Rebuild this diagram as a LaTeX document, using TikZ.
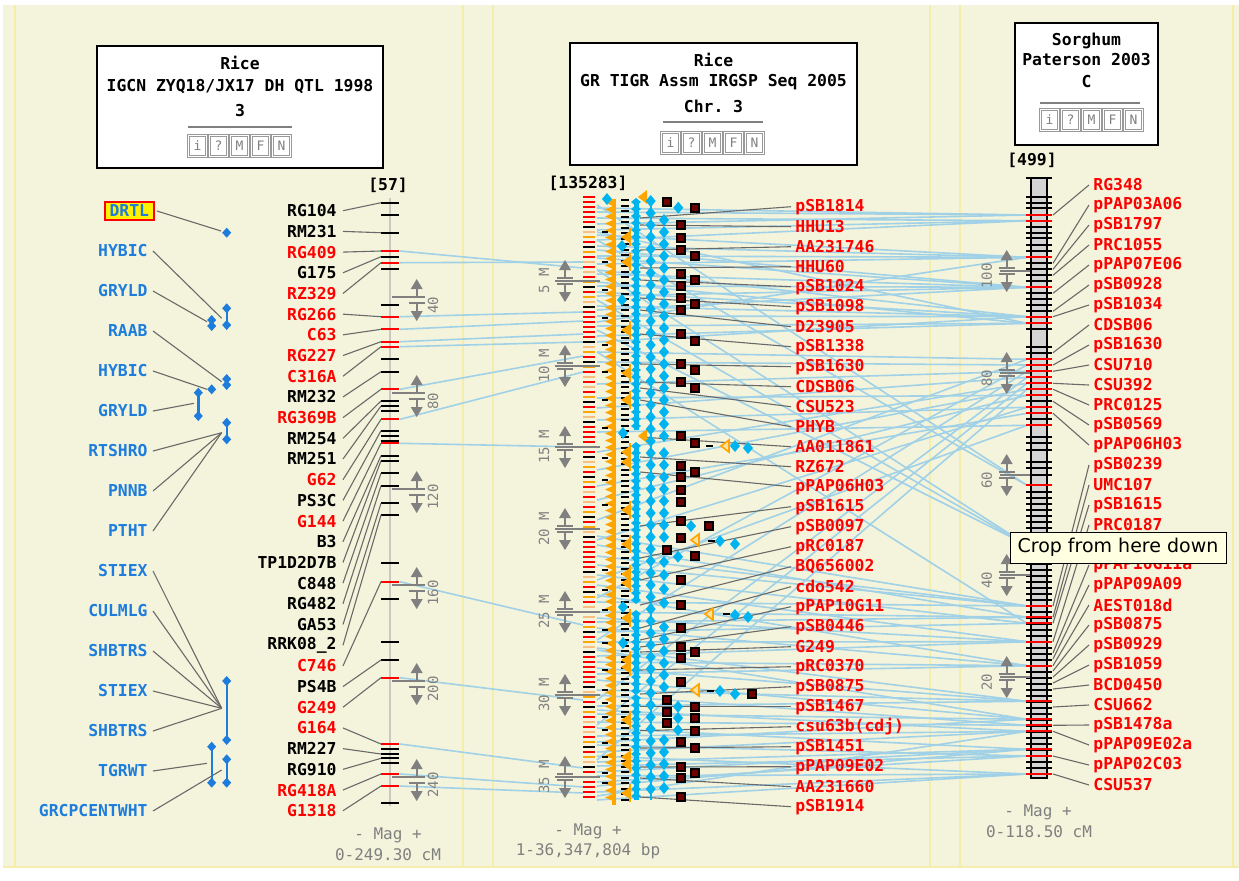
\documentclass[tikz,border=0pt]{standalone}
\usepackage{fontspec}
\setmonofont{DejaVu Sans Mono}
\newfontfamily\tipfont{DejaVu Sans}
\definecolor{bgc}{RGB}{244,244,220}
\definecolor{panelc}{RGB}{245,238,170}
\definecolor{tred}{RGB}{255,0,0}
\definecolor{qblue}{RGB}{30,125,220}
\definecolor{lnk}{RGB}{160,209,231}
\definecolor{cgray}{RGB}{105,105,105}
\definecolor{sgray}{RGB}{128,128,128}
\definecolor{orng}{RGB}{255,165,0}
\definecolor{peach}{RGB}{248,190,130}
\definecolor{cyn}{RGB}{0,180,240}
\definecolor{sqred}{RGB}{110,0,0}
\definecolor{grn}{RGB}{30,140,30}
\definecolor{chrg}{RGB}{212,212,212}
\definecolor{tipbg}{RGB}{255,255,225}
\definecolor{axg}{RGB}{200,200,200}
\begin{document}
\begin{tikzpicture}[x=0.5pt,y=-0.5pt,
  mono/.style={font=\ttfamily\bfseries\fontsize{8.2}{9}\selectfont, inner sep=0pt},
  graytxt/.style={font=\ttfamily\fontsize{8}{9}\selectfont, inner sep=0pt, text=sgray},
  scaletxt/.style={font=\ttfamily\fontsize{7}{8}\selectfont, inner sep=0pt, text=sgray, rotate=90},
  qlbl/.style={mono, text=qblue, anchor=east},
  btn/.style={draw=sgray!80, double=white, double distance=0.8pt, line width=0.4pt, minimum width=9pt, minimum height=10.5pt, inner sep=0pt, font=\ttfamily\fontsize{6.5}{7}\selectfont, text=sgray},
  conn/.style={cgray, line width=0.55pt},
  link/.style={lnk, line width=0.8pt},
  hbox/.style={draw=black, fill=white, line width=1.1pt},
  dm/.pic={\fill[cyn] (0,-6) -- (5,0) -- (0,6) -- (-5,0) -- cycle;},
  qd/.pic={\fill[qblue] (0,-5) -- (4.5,0) -- (0,5) -- (-4.5,0) -- cycle;},
  sq/.pic={\filldraw[fill=sqred, draw=black, line width=1pt] (-4,-4) rectangle (4,4);},
  otri/.pic={\filldraw[draw=orng, fill=orng!35, line width=0.8pt] (4,-6) -- (-4,0) -- (4,6) -- cycle;},
  smark/.pic={
    \fill[sgray] (0,-21) -- (-6,-11) -- (6,-11) -- cycle;
    \fill[sgray] (0,21) -- (-6,11) -- (6,11) -- cycle;
    \draw[sgray, line width=1pt] (0,-11) -- (0,-3) (0,3) -- (0,11) (-8,-3) -- (8,-3) (-8,3) -- (8,3);}
]
\useasboundingbox (0,0) rectangle (1239,880);
% ---------- background ----------
\fill[white] (0,0) rectangle (1239,880);
\fill[bgc] (3,5) rectangle (1239,868);
\foreach \xx in {15,463,493,930,960,1233} \draw[panelc, line width=1.2pt] (\xx,5) -- (\xx,867);
\draw[panelc, line width=1.2pt] (3,867) -- (1239,867);

% ---------- light blue links ----------
\foreach \a/\b in {251/268, 262.7/262, 316.7/312, 329.3/321, 341.7/334, 346.7/342, 389.3/356, 419.3/372, 443.3/447, 581.7/625, 677.7/700, 744/768, 774/787, 786/793}
  \draw[link] (400,\a) -- (583,\b);
\foreach \a/\b in {212/215, 224/215, 218/220.7, 230/220.7, 246/257.3, 256/257.3, 264/257.3, 274/287.3, 286/287.3, 296/287.3, 306/316.7, 316/316.7, 326/323.3, 336/323.3, 352/359.3, 520/359.3, 362/365, 598/365, 384/371.3, 640/371.3, 408/377.3, 700/377.3, 452/383.3, 725/383.3, 470/389.3, 760/389.3, 398/395.3, 500/395.3, 420/407.3, 540/407.3, 486/413.3, 432/425.3, 580/425.3, 205/485.3, 240/485.3, 556/606, 602/606, 612/617.3, 622/617.3, 352/623.3, 632/623.3, 642/641.7, 656/641.7, 662/665.7, 674/665.7, 690/701.3, 706/701.3, 714/719.3, 742/719.3, 722/725.3, 736/731.3, 752/731.3, 762/749.3, 772/749.3, 782/756, 792/774, 800/774, 300/545, 330/545, 270/545,
  208/215, 235/257.3, 240/220.7, 250/287.3, 270/316.7, 282/323.3, 292/316.7, 310/287.3, 322/257.3, 342/316.7, 232/323.3, 258/287.3, 545/617.3, 565/606, 575/623.3, 585/641.7, 595/665.7, 618/641.7, 628/665.7, 648/701.3, 668/701.3, 680/719.3, 695/725.3, 710/731.3, 728/749.3, 745/756, 756/774, 766/756, 776/774, 786/749.3, 796/731.3, 650/719.3, 536/606}
  \draw[link] (597,\a) -- (1027,\b);

% ---------- left QTL labels ----------
\node[qlbl, fill=yellow, draw=tred, line width=1pt, inner xsep=2.5pt, inner ysep=1.5pt] (q0) at (155,211) {DRTL};
\foreach \t/\yy/\n in {HYBIC/251/1, GRYLD/291/2, RAAB/331/3, HYBIC/371/4, GRYLD/411/5, RTSHRO/451/6, PNNB/491/7, PTHT/531/8, STIEX/571/9, CULMLG/611/10, SHBTRS/651/11, STIEX/691/12, SHBTRS/731/13, TGRWT/771/14, GRCPCENTWHT/811/15}
  \node[qlbl] (q\n) at (148,\yy) {\t};
\coordinate (qe0) at (221,231);
\coordinate (qe1) at (221.7,318.3);
\coordinate (qe2) at (207,321.7);
\coordinate (qe3) at (221.7,381.7);
\coordinate (qe4) at (207,389.3);
\coordinate (qe5) at (194,403.3);
\coordinate (qe6) at (221.7,432.7);
\coordinate (qe9) at (221.7,708.3);
\coordinate (qe14) at (207,763.3);
\coordinate (qe15) at (221.7,770);
\draw[conn] ([xshift=1pt]q0.east) -- (qe0);
\foreach \n/\e in {1/1, 2/2, 3/3, 4/4, 5/5, 6/6, 7/6, 8/6, 9/9, 10/9, 11/9, 12/9, 13/9, 14/14, 15/15}
  \draw[conn] ([xshift=2.5pt]q\n.east) -- (qe\e);
\foreach \xa/\ya/\yb in {226.7/308.3/325, 198.3/392.7/416, 226.7/422.7/439.3, 226.7/681/740, 211.7/746.7/782.7, 226.7/759.3/782.7}{
  \draw[qblue, line width=1.2pt] (\xa,\ya) -- (\xa,\yb);
  \pic at (\xa,\ya) {qd}; \pic at (\xa,\yb) {qd};
}
\foreach \xa/\ya in {226.7/232.7, 211.7/320, 211.7/326, 226.7/379, 226.7/385, 211.7/389.3}
  \pic at (\xa,\ya) {qd};

% ---------- left map ----------
\node[mono] (lhead) at (388,185) {[57]};
\draw[axg, line width=1pt] (390,198) -- (390,806);
\foreach \yy/\c [count=\j from 0] in {202.7/black, 215/black, 232.7/black, 251/tred, 256.7/black, 262.7/tred, 269.3/black, 305/black, 316.7/tred, 329.3/tred, 341.7/tred, 346.7/tred, 359.3/black, 371.7/black, 389.3/tred, 401/black, 406/black, 411/black, 419.3/tred, 430.7/black, 436/black, 440.7/black, 443.3/tred, 455.7/black, 460.7/black, 473.3/black, 485.7/black, 503.3/black, 515/black, 563.3/black, 581.7/tred, 599.3/black, 641.7/black, 660/black, 677.7/tred, 744/tred, 749.3/black, 754/black, 758.3/black, 763.3/black, 774/tred, 786/tred, 803.3/black}{
  \draw[\c, line width=1pt] (381,\yy) -- (399,\yy);
  \coordinate (lk\j) at (381,\yy);
}
\foreach \c/\yy in {300/40, 396/80, 492/120, 588/160, 684/200, 780/240}{
  \draw[sgray, line width=0.75pt] (392,\c-3) -- (425,\c-3);
  \pic at (416.7,\c) {smark};
  \node[scaletxt] (ls\yy) at (433,\c+5) {\yy};
}
\foreach \t/\c/\j [count=\i from 0] in {RG104/black/0, RM231/black/2, RG409/tred/3, G175/black/4, RZ329/tred/5, RG266/tred/8, C63/tred/9, RG227/tred/10, C316A/tred/11, RM232/black/13, RG369B/tred/14, RM254/black/15, RM251/black/16, G62/tred/18, PS3C/black/19, G144/tred/22, B3/black/23, TP1D2D7B/black/24, C848/black/25, RG482/black/26, GA53/black/27, RRK08\_2/black/28, C746/tred/30, PS4B/black/33, G249/tred/34, G164/tred/35, RM227/black/37, RG910/black/38, RG418A/tred/40, G1318/tred/41}{
  \node[mono, text=\c, anchor=east] (ml\i) at (337,210.7+20.69*\i) {\t};
  \draw[conn] ([xshift=3pt]ml\i.east) -- (lk\j);
}
\node[graytxt] (lmag) at (388,835) {- Mag +};
\node[graytxt] (lrng) at (388,855) {0-249.30 cM};

% ---------- middle labels and connectors ----------
\foreach \t/\ty [count=\k from 0] in {pSB1814/218, HHU13/225, AA231746/250, HHU60/268, pSB1024/280, pSB1098/298, D23905/310, pSB1338/334, pSB1630/364, CDSB06/382, CSU523/388, PHYB/400, AA011861/437, RZ672/457, pPAP06H03/472, pSB1615/526, pSB0097/558, pRC0187/580, BQ656002/605, cdo542/628, pPAP10G11/640, pSB0446/647, G249/652, pRC0370/670, pSB0875/694, pSB1467/706.7, csu63b(cdj)/730.7, pSB1451/748, pPAP09E02/767, AA231660/778, pSB1914/797}{
  \node[mono, text=tred, anchor=west] (mm\k) at (795,206.7+20*\k) {\t};
  \draw[conn] ([xshift=-2pt]mm\k.west) -- (640,\ty);
}

% ---------- middle map ----------
\node[mono] (mhead) at (588,183) {[135283]};
\foreach \i in {0,...,120}{
  \pgfmathtruncatemacro\sq{mod(\i*\i,23)}
  \pgfmathtruncatemacro\cc{mod(\i*37+\sq*11,23)}
  \ifnum\cc<9 \def\mcol{tred}\else\ifnum\cc<14 \def\mcol{orng}\else\ifnum\cc<18 \def\mcol{peach}\else\ifnum\cc<22 \def\mcol{black}\else\def\mcol{grn}\fi\fi\fi\fi
  \draw[line width=1pt, draw=\mcol] (583,197+5*\i) -- (595,197+5*\i);
}
% orange sawtooth column
\fill[orng] (612,199) rectangle (616,805);
\foreach \y in {199,206,...,799} \fill[orng] (613,\y) -- (605,\y+3.5) -- (613,\y+7) -- cycle;
\foreach \y in {232,262,290,318,345,372,400,428,458,480,505,570,590,610,630,643,670,690,703,717,730,743,757,773,783}
  \draw[line width=1pt] (602,\y) -- (608,\y);
% black dash column with orange triangles
\foreach \y in {200,205.5,...,800} \draw[line width=1pt] (621,\y) -- (629,\y);
\foreach \y in {237,262,330,373,400,452,462,510,544,574,583,618,660,667,720,757,764,793}{
  \fill[orng] (630,\y-6) -- (621,\y) -- (630,\y+6) -- cycle;
  \draw[orng, line width=1pt] (630,\y-9) -- (630,\y+9);
}
% cyan bar column
\foreach \r/\s in {202/430, 446/600, 614/692, 698/800}{
  \draw[cyn, line width=2.5pt] (636,\r) -- (636,\s);
  \pgfmathsetmacro\rr{\r+7}
  \foreach \y in {\r,\rr,...,\s} \fill[cyn] (636,\y-4) -- (641,\y) -- (636,\y+4) -- (631,\y) -- cycle;
}
\foreach \y in {197,436} \fill[orng] (647,\y-7) -- (638,\y) -- (647,\y+7) -- cycle;
\foreach \xa/\ya in {607/199, 622/246, 622/300, 623/433, 623/607, 623/643} \pic at (\xa,\ya) {dm};
% diamond chains
\draw[cyn, line width=0.8pt] (650.7,201) -- (650.7,800);
\foreach \y in {201,213,...,800} \pic at (650.7,\y) {dm};
\foreach \y in {220,232,...,436} \pic at (664,\y) {dm};
\foreach \y in {453,465,...,538} \pic at (664,\y) {dm};
\foreach \y in {562,575,589,603} \pic at (664,\y) {dm};
\foreach \y in {627,639,...,688} \pic at (664,\y) {dm};
\foreach \y in {740,752,...,790} \pic at (664,\y) {dm};
\foreach \xa/\ya in {678.3/207.7, 678/556.7, 678/706.7, 678/718, 678/730, 691/526, 735/446, 748/448, 720/541, 735/544, 735/615, 748/617, 720/691, 735/694}
  \pic at (\xa,\ya) {dm};
% squares
\foreach \xa/\ya in {666.7/202, 681/225, 681/238, 681/250, 681/274, 681/286, 681/298, 681/310, 681/334, 681/364, 681/382, 681/436, 681/466, 681/477, 681/490, 681/502, 681/521, 681/538, 681/580, 681/605, 681/628, 681/647, 681/658, 681/682, 681/742, 681/767, 681/778, 681/797, 667/550, 667/700, 667/712, 667/723, 695/207.7, 695/256, 695/280, 695/304, 695/340.7, 695/370, 695/388, 695/442.7, 695/472, 695/555.7, 695/652, 695/706.7, 695/718, 695/730.7, 695/748, 695/772.7, 709/526, 751.7/694}
  \pic at (\xa,\ya) {sq};
% small extra rows
\foreach \xa/\ya in {725/446, 695/540, 709/614, 695/690} \pic at (\xa,\ya) {otri};
\foreach \xa/\ya in {706/446, 708/541, 723/614, 707/691} \draw[line width=1pt] (\xa,\ya) -- (\xa+7,\ya);
% scale markers
\foreach \c/\t in {281/5, 366/10, 447/15, 529/20, 612/25, 695/30, 777/35}{
  \draw[sgray, line width=0.75pt] (555,\c) -- (600,\c);
  \pic at (565,\c) {smark};
  \node[scaletxt] (ms\t) at (544,\c) {\t{} M};
}
\node[graytxt] (mmag) at (588,831) {- Mag +};
\node[graytxt] (mrng) at (588,851) {1-36,347,804 bp};

% ---------- right map ----------
\node[mono] (rhead) at (1032,160) {[499]};
\filldraw[fill=chrg, draw=black, line width=1pt] (1031,178) rectangle (1047,778);
\foreach \y in {178.3, 196.7, 202.7, 208.3, 226.7, 232.7, 238.3, 245, 251, 263.3, 269.3, 275.3, 281.3, 293.3, 299.3, 305.3, 311.3, 329.3, 346.7, 352.7, 401.3, 419.3, 436.7, 443.3, 450, 461.7, 468.3, 475}
  \draw[line width=1pt] (1026,\y) -- (1052,\y);
\foreach \y in {492,498,...,778} \draw[line width=1pt] (1026,\y) -- (1052,\y);
\foreach \y in {215, 220.7, 257.3, 287.3, 316.7, 323.3, 359.3, 365, 371.3, 377.3, 383.3, 389.3, 395.3, 407.3, 413.3, 425.3, 485.3, 606, 617.3, 623.3, 641.7, 665.7, 701.3, 719.3, 725.3, 731.3, 749.3, 756, 774}
  \draw[tred, line width=1pt] (1026,\y) -- (1052,\y);
\foreach \c/\t in {271/100, 373/80, 475/60, 575/40, 677/20}{
  \draw[sgray, line width=0.75pt] (1000,\c) -- (1030,\c);
  \pic at (1006.7,\c) {smark};
  \node[scaletxt] (rs\t) at (986.7,\c+5) {\t};
}
\foreach \t/\k/\ty in {RG348/0/215, pPAP03A06/1/263.3, pSB1797/2/269.3, PRC1055/3/275.3, pPAP07E06/4/293.3, pSB0928/5/311.3, pSB1034/6/316.7, CDSB06/7/352.7, pSB1630/8/365, CSU710/9/371.3, CSU392/10/383.3, PRC0125/11/389.3, pSB0569/12/401.3, pPAP06H03/13/413.3, pSB0239/14/606, UMC107/15/617.3, pSB1615/16/623.3, PRC0187/17/641.7, pPAP10G11a/19/653, pPAP09A09/20/659, AEST018d/21/665.7, pSB0875/22/671, pSB0929/23/677, pSB1059/24/683, BCD0450/25/689, CSU662/26/707, pSB1478a/27/725.3, pPAP09E02a/28/731.3, pPAP02C03/29/756, CSU537/30/774}{
  \node[mono, text=tred, anchor=west] (rm\k) at (1093,185+20*\k) {\t};
  \draw[conn] ([xshift=-2pt]rm\k.west) -- (1053,\ty);
}
\node[graytxt] (rmag) at (1038,812) {- Mag +};
\node[graytxt] (rrng) at (1039,832) {0-118.50 cM};

% ---------- header boxes ----------
\draw[hbox] (97,46) rectangle (383,168);
\node[mono] (h1a) at (240,63.3) {Rice};
\node[mono] (h1b) at (240,86.7) {IGCN ZYQ18/JX17 DH QTL 1998};
\node[mono] (h1c) at (240,111) {3};
\draw[sgray, line width=1pt] (188,127) -- (292,127);
\foreach \l [count=\j from 0] in {i,?,M,F,N} \node[btn] (ba\j) at (197.5+21*\j,146) {\l};

\draw[hbox] (570,43) rectangle (857,165);
\node[mono] (h2a) at (713.5,60) {Rice};
\node[mono] (h2b) at (713.5,82) {GR TIGR Assm IRGSP Seq 2005};
\node[mono] (h2c) at (713.5,106.5) {Chr. 3};
\draw[sgray, line width=1pt] (663,122) -- (763,122);
\foreach \l [count=\j from 0] in {i,?,M,F,N} \node[btn] (bb\j) at (670.5+21*\j,143) {\l};

\draw[hbox] (1015,23) rectangle (1158,145);
\node[mono] (h3a) at (1086.5,40.7) {Sorghum};
\node[mono] (h3b) at (1086.5,60) {Paterson 2003};
\node[mono] (h3c) at (1086.5,81.7) {C};
\draw[sgray, line width=1pt] (1040,103) -- (1140,103);
\foreach \l [count=\j from 0] in {i,?,M,F,N} \node[btn] (bc\j) at (1049.5+21*\j,120) {\l};

% ---------- tooltip ----------
\node[draw=black, fill=tipbg, line width=0.5pt, minimum width=108pt, minimum height=15.5pt, inner sep=0pt, font=\tipfont\fontsize{9.5}{11}\selectfont] (tip) at (1118,547.5) {Crop from here down};
\end{tikzpicture}
\end{document}
